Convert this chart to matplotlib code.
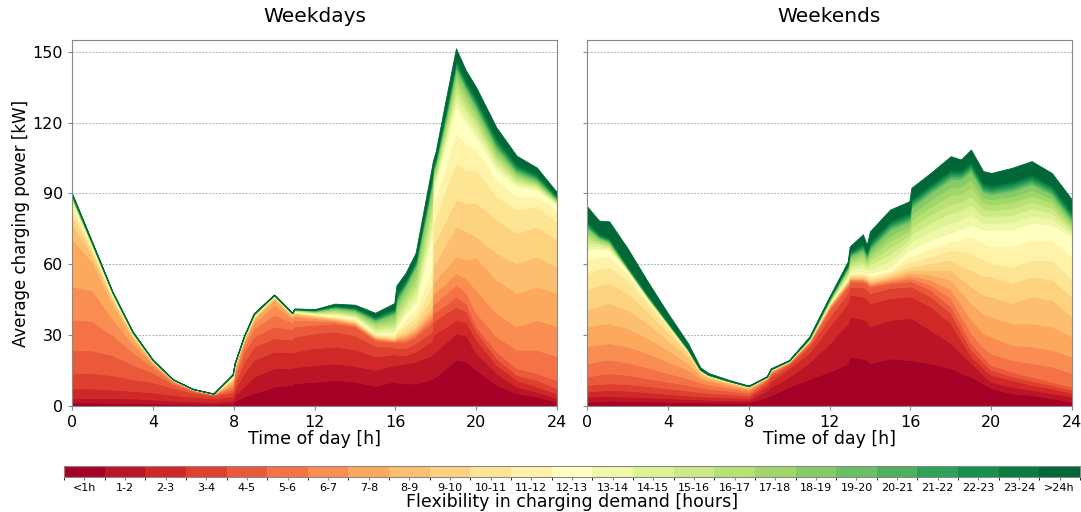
"""
Average charging power by flexibility class, weekdays vs weekends.
Stacked areas (one layer per flexibility class) + shared discrete colorbar.
"""
import numpy as np
import matplotlib
matplotlib.use("Agg")
import matplotlib.pyplot as plt
from matplotlib.colors import ListedColormap, BoundaryNorm
from matplotlib.colorbar import ColorbarBase

# flexibility classes, bottom layer first
CLASSES = ["<1h", "1-2", "2-3", "3-4", "4-5", "5-6", "6-7", "7-8", "8-9", "9-10",
           "10-11", "11-12", "12-13", "13-14", "14-15", "15-16", "16-17", "17-18",
           "18-19", "19-20", "20-21", "21-22", "22-23", "23-24", ">24h"]

# weekdays: time of day [h] and one row of layer values [kW] per time (order = CLASSES)
WD_HOURS = [0, 1, 2, 3, 4, 5, 6, 7, 7.95, 8.05, 8.5, 9, 10, 10.9, 11, 12, 13, 14, 15,
            15.95, 16.05, 16.5, 17, 17.8, 17.85, 18, 18.5, 19, 19.5, 20, 21, 22, 23, 24]
WD_LAYERS = [
    [1.5, 1.8, 4.2, 6.4, 9.9, 12.7, 14.1, 20.4, 6.0, 4.0, 3.0, 1.5, 1.0, 0.5, 0.5, 0.3, 0.3, 0.3, 0.3, 0.2, 0.2, 0.2, 0.2, 0.2, 0.5],
    [1.5, 2.0, 4.0, 6.5, 9.5, 12.5, 13.0, 12.0, 2.5, 2.0, 1.0, 0.7, 0.5, 0.2, 0.2, 0.2, 0.2, 0.1, 0.1, 0.1, 0.1, 0.1, 0.1, 0.1, 0.2],
    [1.4, 2.0, 3.6, 6.0, 8.5, 8.5, 7.0, 6.0, 2.0, 1.2, 0.7, 0.4, 0.3, 0.1, 0.1, 0.1, 0.1, 0.05, 0.05, 0.05, 0.05, 0.05, 0.05, 0.1, 0.1],
    [1.3, 1.9, 3.2, 5.0, 6.1, 5.3, 3.5, 2.5, 1.0, 0.5, 0.3, 0.2, 0.1, 0.05, 0.05, 0.05, 0.05, 0.05, 0.05, 0.05, 0.05, 0.05, 0.05, 0.05, 0.1],
    [1.1, 1.7, 3.0, 4.3, 4.0, 2.5, 1.2, 0.6, 0.3, 0.2, 0.1, 0.1, 0.05, 0.03, 0.03, 0.03, 0.03, 0.03, 0.03, 0.03, 0.03, 0.03, 0.03, 0.03, 0.07],
    [0.9, 1.4, 2.4, 2.9, 1.8, 0.8, 0.4, 0.2, 0.1, 0.05, 0.03, 0.03, 0.03, 0.02, 0.02, 0.02, 0.02, 0.02, 0.02, 0.02, 0.02, 0.02, 0.02, 0.02, 0.06],
    [0.8, 1.2, 1.9, 1.8, 0.7, 0.3, 0.15, 0.08, 0.04, 0.02, 0.02, 0.02, 0.02, 0.01, 0.01, 0.01, 0.01, 0.01, 0.01, 0.01, 0.01, 0.01, 0.01, 0.01, 0.05],
    [0.7, 1.0, 1.5, 1.2, 0.35, 0.15, 0.08, 0.05, 0.03, 0.02, 0.02, 0.02, 0.02, 0.01, 0.01, 0.01, 0.01, 0.01, 0.01, 0.01, 0.01, 0.01, 0.01, 0.01, 0.04],
    [0.9, 1.4, 1.9, 1.7, 1.3, 1.2, 1.0, 0.9, 0.8, 0.6, 0.5, 0.3, 0.2, 0.1, 0.1, 0.1, 0.05, 0.05, 0.05, 0.05, 0.05, 0.05, 0.05, 0.05, 0.1],
    [2.0, 2.5, 2.5, 2.5, 2.2, 2.0, 1.5, 1.0, 0.6, 0.4, 0.2, 0.1, 0.1, 0.05, 0.05, 0.05, 0.05, 0.05, 0.05, 0.05, 0.05, 0.05, 0.05, 0.05, 0.1],
    [4.0, 4.2, 5.5, 4.9, 4.2, 2.5, 1.5, 0.9, 0.5, 0.3, 0.2, 0.1, 0.1, 0.05, 0.05, 0.05, 0.05, 0.05, 0.05, 0.05, 0.05, 0.05, 0.05, 0.05, 0.1],
    [5.4, 7.0, 7.1, 5.5, 4.4, 3.5, 2.4, 1.5, 0.5, 0.4, 0.3, 0.2, 0.1, 0.1, 0.1, 0.1, 0.1, 0.1, 0.1, 0.05, 0.05, 0.05, 0.05, 0.05, 0.2],
    [8.2, 7.8, 7.0, 5.7, 5.0, 4.9, 4.3, 2.3, 0.8, 0.3, 0.2, 0.1, 0.1, 0.05, 0.05, 0.05, 0.05, 0.05, 0.05, 0.02, 0.02, 0.02, 0.02, 0.02, 0.15],
    [9.0, 7.2, 6.5, 5.5, 4.3, 3.0, 1.8, 0.8, 0.4, 0.2, 0.1, 0.1, 0.1, 0.05, 0.05, 0.05, 0.05, 0.05, 0.05, 0.02, 0.02, 0.02, 0.02, 0.02, 0.1],
    [9.6, 6.8, 6.6, 6.4, 4.3, 2.8, 1.6, 0.8, 0.5, 0.3, 0.2, 0.2, 0.2, 0.1, 0.1, 0.1, 0.1, 0.1, 0.1, 0.05, 0.05, 0.05, 0.05, 0.05, 0.2],
    [10.3, 7.1, 7.1, 6.3, 3.6, 1.8, 1.0, 0.6, 0.4, 0.3, 0.2, 0.2, 0.2, 0.2, 0.2, 0.2, 0.2, 0.2, 0.2, 0.1, 0.1, 0.1, 0.1, 0.1, 0.2],
    [11.0, 7.1, 7.1, 6.3, 3.5, 0.8, 0.6, 0.4, 0.3, 0.4, 0.4, 0.4, 0.3, 0.5, 0.5, 0.5, 0.5, 0.5, 0.5, 0.2, 0.2, 0.2, 0.2, 0.25, 0.7],
    [10.3, 6.7, 7.0, 6.0, 3.7, 0.6, 0.5, 0.4, 0.3, 0.5, 0.5, 0.5, 0.5, 0.5, 0.5, 0.5, 0.5, 0.5, 0.5, 0.2, 0.3, 0.3, 0.3, 0.3, 1.0],
    [8.5, 6.8, 5.7, 4.5, 2.5, 0.5, 0.4, 0.3, 0.3, 0.4, 0.4, 0.4, 0.3, 0.85, 0.85, 0.85, 0.85, 0.85, 0.85, 0.3, 0.3, 0.4, 0.4, 0.4, 1.6],
    [10.5, 6.9, 4.6, 3.0, 2.0, 0.4, 0.4, 0.4, 0.3, 0.6, 0.7, 0.6, 0.6, 1.2, 1.3, 1.4, 1.4, 1.4, 1.3, 0.4, 0.4, 0.5, 0.5, 0.6, 2.2],
    [10.0, 7.5, 4.0, 3.0, 2.8, 0.6, 0.6, 0.6, 0.4, 0.8, 0.9, 0.9, 0.9, 1.6, 1.8, 1.9, 1.9, 1.9, 1.9, 0.6, 0.7, 0.7, 0.8, 0.9, 3.3],
    [9.6, 8.4, 3.6, 2.9, 2.8, 0.9, 0.9, 0.9, 0.8, 1.6, 2.0, 2.4, 2.5, 1.7, 1.8, 1.9, 2.0, 1.9, 2.0, 0.5, 0.5, 0.6, 0.6, 0.7, 2.8],
    [9.6, 9.2, 4.2, 3.6, 2.8, 1.1, 1.1, 1.1, 1.0, 1.8, 2.3, 2.8, 3.0, 2.3, 2.5, 2.6, 2.7, 2.7, 2.6, 0.5, 0.5, 0.6, 0.6, 0.7, 2.9],
    [11.5, 10.0, 6.0, 4.0, 4.0, 1.6, 1.6, 1.6, 1.7, 4.0, 5.0, 7.0, 14.0, 4.0, 3.8, 3.6, 3.4, 3.2, 3.0, 0.7, 0.7, 0.8, 0.8, 0.9, 4.1],
    [12.0, 10.4, 7.6, 5.5, 3.5, 3.9, 4.4, 4.8, 7.2, 8.6, 9.4, 7.5, 6.2, 1.5, 1.4, 1.3, 1.3, 1.2, 1.3, 0.4, 0.4, 0.5, 0.5, 0.5, 2.2],
    [12.4, 10.6, 7.8, 5.7, 3.5, 4.0, 4.5, 5.0, 7.5, 9.0, 10.0, 8.0, 7.0, 1.5, 1.4, 1.3, 1.3, 1.2, 1.3, 0.4, 0.5, 0.5, 0.5, 0.6, 2.5],
    [16.0, 11.0, 6.5, 6.0, 3.5, 4.5, 4.5, 6.5, 10.5, 10.0, 13.0, 10.0, 9.0, 2.2, 2.0, 1.9, 1.8, 1.6, 1.5, 0.7, 0.7, 0.8, 0.8, 0.9, 4.1],
    [19.5, 11.3, 5.7, 5.5, 4.4, 4.9, 5.0, 7.1, 12.6, 11.4, 15.6, 12.7, 11.3, 3.0, 2.8, 2.7, 2.6, 2.5, 2.0, 0.8, 0.8, 0.9, 0.9, 1.0, 4.5],
    [19.0, 11.0, 5.5, 4.5, 3.5, 4.5, 6.0, 8.0, 12.0, 12.0, 14.0, 11.0, 9.0, 2.8, 2.6, 2.4, 2.2, 2.0, 2.0, 0.7, 0.7, 0.8, 0.8, 0.9, 4.1],
    [15.3, 7.0, 5.7, 3.5, 2.2, 5.6, 9.7, 14.0, 8.8, 14.2, 14.0, 8.6, 5.4, 2.4, 2.2, 2.0, 1.9, 1.8, 1.7, 0.8, 0.8, 0.9, 0.9, 1.0, 4.6],
    [8.9, 5.0, 3.5, 2.8, 2.8, 6.4, 9.9, 14.2, 11.3, 14.2, 9.8, 7.2, 4.0, 1.8, 1.6, 1.5, 1.4, 1.4, 1.3, 0.8, 0.8, 0.9, 0.9, 1.0, 4.6],
    [5.4, 2.8, 2.8, 2.2, 2.8, 7.8, 9.9, 14.1, 12.7, 12.8, 9.9, 5.6, 4.2, 1.2, 1.1, 1.0, 1.0, 0.9, 0.8, 0.6, 0.6, 0.7, 0.7, 0.8, 3.6],
    [4.0, 2.0, 2.2, 2.8, 2.9, 9.9, 12.7, 14.1, 12.8, 12.6, 8.6, 4.2, 2.8, 0.8, 0.7, 0.6, 0.6, 0.6, 0.6, 0.5, 0.5, 0.5, 0.6, 0.6, 2.8],
    [1.8, 1.5, 2.1, 2.1, 3.5, 10.0, 12.7, 14.1, 11.2, 11.4, 7.8, 5.0, 2.1, 0.4, 0.4, 0.35, 0.35, 0.3, 0.3, 0.3, 0.3, 0.3, 0.3, 0.4, 1.5],
]

# weekends
WE_HOURS = [0, 0.6, 1.1, 2, 3, 4, 5, 5.6, 6, 7, 8, 8.9, 9.1, 10, 11, 12, 12.9, 13, 13.65, 13.85,
            14, 15, 15.95, 16.05, 17, 18, 18.5, 19, 19.6, 20, 21, 22, 23, 24]
WE_LAYERS = [
    [1.8, 2.2, 2.1, 2.8, 3.5, 5.7, 7.1, 8.5, 7.0, 8.5, 7.1, 5.7, 4.2, 1.8, 1.7, 1.6, 1.5, 1.4, 1.2, 0.5, 0.5, 0.6, 0.6, 0.7, 6.3],
    [2.1, 2.1, 2.4, 2.8, 4.0, 5.7, 7.1, 8.5, 8.0, 8.5, 7.0, 5.0, 3.5, 1.0, 0.9, 0.8, 0.7, 0.6, 0.5, 0.3, 0.3, 0.3, 0.4, 0.5, 5.5],
    [2.3, 1.9, 2.6, 2.8, 4.3, 5.6, 7.1, 8.4, 8.6, 8.4, 7.0, 4.4, 2.8, 0.7, 0.6, 0.6, 0.5, 0.5, 0.4, 0.3, 0.3, 0.3, 0.4, 0.5, 6.9],
    [2.1, 1.9, 2.5, 2.8, 3.9, 5.2, 6.8, 7.8, 7.7, 7.1, 5.7, 2.8, 1.4, 0.15, 0.15, 0.1, 0.1, 0.1, 0.1, 0.2, 0.2, 0.2, 0.3, 0.4, 7.2],
    [2.0, 1.7, 2.2, 2.6, 3.2, 4.6, 6.0, 6.4, 6.3, 5.0, 3.6, 1.4, 0.7, 0.1, 0.1, 0.1, 0.1, 0.1, 0.1, 0.2, 0.2, 0.2, 0.2, 0.3, 5.4],
    [1.8, 1.5, 1.8, 2.4, 2.8, 3.6, 4.9, 5.0, 4.2, 3.5, 2.2, 0.7, 0.3, 0.05, 0.05, 0.05, 0.05, 0.05, 0.05, 0.15, 0.15, 0.15, 0.2, 0.25, 3.4],
    [1.7, 1.3, 1.5, 2.0, 2.4, 2.8, 3.6, 2.8, 2.9, 1.6, 0.6, 0.2, 0.1, 0.05, 0.05, 0.05, 0.05, 0.05, 0.05, 0.1, 0.1, 0.1, 0.1, 0.2, 2.2],
    [1.6, 1.2, 1.4, 1.7, 2.0, 2.1, 1.6, 1.5, 1.1, 0.5, 0.3, 0.1, 0.05, 0.03, 0.03, 0.03, 0.03, 0.03, 0.03, 0.05, 0.05, 0.05, 0.05, 0.05, 0.9],
    [1.5, 1.1, 1.3, 1.6, 1.8, 1.8, 1.6, 0.9, 0.7, 0.4, 0.2, 0.1, 0.05, 0.03, 0.03, 0.03, 0.03, 0.03, 0.03, 0.04, 0.04, 0.04, 0.04, 0.04, 0.6],
    [1.5, 1.0, 1.2, 1.4, 1.4, 1.3, 1.0, 0.7, 0.5, 0.3, 0.1, 0.05, 0.05, 0.02, 0.02, 0.02, 0.02, 0.02, 0.02, 0.03, 0.03, 0.03, 0.03, 0.03, 0.35],
    [1.5, 0.9, 1.0, 1.1, 1.0, 0.9, 0.7, 0.5, 0.3, 0.15, 0.1, 0.05, 0.05, 0.02, 0.02, 0.02, 0.02, 0.02, 0.02, 0.02, 0.02, 0.02, 0.02, 0.02, 0.2],
    [3.8, 2.8, 2.0, 1.4, 1.0, 0.4, 0.3, 0.2, 0.15, 0.1, 0.05, 0.05, 0.05, 0.02, 0.02, 0.02, 0.02, 0.02, 0.02, 0.02, 0.02, 0.02, 0.02, 0.02, 0.1],
    [4.5, 3.5, 2.6, 1.8, 1.2, 0.6, 0.4, 0.3, 0.2, 0.1, 0.1, 0.05, 0.05, 0.03, 0.03, 0.03, 0.03, 0.03, 0.03, 0.03, 0.03, 0.03, 0.03, 0.03, 0.25],
    [8.2, 4.2, 3.6, 1.4, 0.7, 0.3, 0.2, 0.1, 0.1, 0.05, 0.05, 0.05, 0.05, 0.03, 0.03, 0.03, 0.03, 0.03, 0.03, 0.03, 0.03, 0.03, 0.03, 0.03, 0.15],
    [11.4, 7.1, 4.2, 2.5, 1.4, 0.4, 0.3, 0.2, 0.2, 0.1, 0.1, 0.05, 0.05, 0.08, 0.08, 0.08, 0.08, 0.08, 0.08, 0.1, 0.1, 0.1, 0.1, 0.15, 0.35],
    [14.6, 12.0, 7.1, 4.2, 2.8, 0.8, 0.6, 0.5, 0.3, 0.2, 0.15, 0.15, 0.1, 0.3, 0.3, 0.25, 0.25, 0.2, 0.2, 0.2, 0.2, 0.2, 0.2, 0.2, 0.4],
    [18.1, 16.9, 8.6, 4.2, 2.8, 0.7, 0.6, 0.5, 0.4, 0.4, 0.4, 0.3, 0.3, 0.8, 0.8, 0.7, 0.7, 0.6, 0.7, 0.25, 0.25, 0.25, 0.3, 0.3, 1.35],
    [20.9, 17.0, 9.2, 3.5, 2.2, 0.6, 0.5, 0.5, 0.5, 0.4, 0.4, 0.3, 0.3, 1.4, 1.3, 1.2, 1.1, 1.0, 1.1, 0.4, 0.4, 0.4, 0.4, 0.5, 2.1],
    [20.0, 16.8, 9.6, 3.8, 2.4, 0.6, 0.5, 0.5, 0.55, 0.6, 0.65, 0.6, 0.6, 1.7, 1.6, 1.5, 1.4, 1.3, 1.2, 0.5, 0.5, 0.6, 0.6, 0.7, 3.9],
    [19.5, 16.5, 9.5, 3.9, 2.5, 0.6, 0.5, 0.5, 0.5, 0.6, 0.6, 0.6, 0.6, 1.3, 1.2, 1.1, 1.0, 1.0, 0.9, 0.5, 0.5, 0.5, 0.5, 0.6, 2.8],
    [18.1, 15.6, 9.9, 4.2, 2.8, 0.6, 0.5, 0.5, 0.6, 0.8, 0.9, 0.9, 0.9, 1.9, 1.8, 1.7, 1.6, 1.5, 1.4, 0.6, 0.6, 0.7, 0.7, 0.8, 4.4],
    [20.2, 16.3, 9.2, 4.3, 2.0, 0.8, 0.7, 0.7, 0.7, 0.9, 0.8, 0.8, 1.1, 3.0, 2.9, 2.8, 2.7, 2.5, 2.3, 0.7, 0.7, 0.7, 0.8, 0.8, 4.8],
    [19.5, 17.7, 9.2, 4.2, 2.2, 1.2, 1.2, 1.1, 1.2, 1.5, 2.0, 2.5, 3.0, 2.1, 2.0, 2.0, 1.9, 1.8, 1.7, 0.7, 0.7, 0.8, 0.8, 0.9, 4.8],
    [19.5, 17.7, 9.2, 4.2, 2.2, 1.2, 1.2, 1.1, 1.2, 1.5, 2.0, 2.5, 3.0, 3.2, 3.1, 3.0, 2.9, 2.6, 2.6, 0.7, 0.7, 0.7, 0.8, 0.8, 4.8],
    [18.1, 14.1, 9.9, 4.3, 2.8, 2.1, 2.2, 2.1, 2.1, 2.8, 2.9, 3.5, 3.5, 3.8, 3.6, 3.4, 3.2, 3.0, 2.8, 0.7, 0.7, 0.7, 0.8, 0.8, 4.8],
    [16.0, 10.6, 8.4, 4.3, 2.8, 3.6, 3.5, 4.3, 4.2, 4.3, 4.2, 3.5, 3.6, 4.3, 4.1, 3.9, 3.7, 3.4, 3.2, 0.7, 0.8, 0.8, 0.9, 0.9, 5.8],
    [14.0, 8.5, 5.5, 3.5, 3.0, 3.5, 5.0, 5.5, 5.5, 5.5, 6.0, 5.0, 4.5, 4.0, 3.8, 3.6, 3.4, 3.2, 3.0, 0.7, 0.7, 0.7, 0.8, 0.8, 4.7],
    [12.4, 5.7, 2.8, 2.9, 2.8, 4.2, 5.7, 7.1, 7.0, 7.1, 7.1, 7.0, 5.2, 4.3, 4.0, 3.8, 3.6, 3.4, 3.3, 0.7, 0.7, 0.8, 0.8, 0.9, 5.3],
    [9.6, 3.6, 2.8, 2.5, 2.4, 4.1, 6.0, 8.0, 8.0, 8.0, 7.0, 7.0, 5.5, 3.2, 3.0, 2.8, 2.6, 2.3, 2.1, 0.7, 0.7, 0.8, 0.8, 0.8, 5.2],
    [7.5, 2.8, 2.9, 2.1, 2.1, 4.9, 7.1, 8.5, 8.5, 8.5, 5.6, 7.1, 7.1, 2.9, 2.7, 2.6, 2.4, 2.2, 2.0, 0.7, 0.7, 0.8, 0.8, 0.9, 5.3],
    [5.4, 2.8, 2.8, 1.7, 1.9, 4.9, 6.4, 9.1, 8.6, 8.4, 7.1, 8.5, 7.1, 3.2, 3.0, 2.8, 2.6, 2.4, 2.2, 0.7, 0.8, 0.8, 0.9, 0.9, 5.8],
    [4.7, 2.1, 2.1, 1.8, 1.7, 5.7, 7.1, 9.8, 11.4, 8.5, 7.0, 8.5, 7.1, 3.2, 3.0, 2.8, 2.6, 2.4, 2.3, 0.7, 0.8, 0.8, 0.9, 0.9, 5.8],
    [3.3, 2.1, 2.1, 1.4, 1.4, 6.4, 7.1, 9.9, 11.3, 8.5, 8.4, 8.5, 6.4, 2.6, 2.4, 2.2, 2.0, 1.8, 1.7, 0.7, 0.7, 0.8, 0.8, 0.9, 5.3],
    [1.8, 2.2, 1.4, 1.4, 1.4, 5.7, 7.0, 8.5, 8.5, 8.5, 7.1, 9.9, 8.4, 1.3, 1.2, 1.1, 1.0, 1.0, 0.8, 0.7, 0.7, 0.8, 0.8, 0.9, 5.3],
]

W, H = 1081, 512
cmap = plt.get_cmap("RdYlGn", len(CLASSES))
colors = [cmap(i) for i in range(len(CLASSES))]

fig = plt.figure(figsize=(W / 100, H / 100), dpi=100)
ax_wd = fig.add_axes([72 / W, 106 / H, 485 / W, 366 / H])
ax_we = fig.add_axes([587 / W, 106 / H, 485 / W, 366 / H], sharey=ax_wd)


def draw_panel(ax, hours, rows, title):
    layers = np.array(rows).T
    polys = ax.stackplot(hours, layers, colors=colors, linewidth=0.6)
    for p, c in zip(polys, colors):
        p.set_edgecolor(c)
    ax.set_xlim(0, 24)
    ax.set_ylim(0, 155)
    ax.set_xticks(range(0, 25, 4))
    ax.set_yticks(range(0, 151, 30))
    ax.yaxis.grid(True, linestyle=(0, (2, 2)), color="#999999", linewidth=0.6)
    ax.set_axisbelow(True)
    for s in ax.spines.values():
        s.set_color("#888888")
    ax.tick_params(labelsize=11.5, length=3, color="#888888")
    ax.set_xlabel("Time of day [h]", fontsize=12.5, labelpad=0)
    ax.set_title(title, fontsize=14.5, pad=13)


draw_panel(ax_wd, WD_HOURS, WD_LAYERS, "Weekdays")
draw_panel(ax_we, WE_HOURS, WE_LAYERS, "Weekends")
ax_wd.set_ylabel("Average charging power [kW]", fontsize=12, labelpad=2)
plt.setp(ax_we.get_yticklabels(), visible=False)

# discrete colorbar for the flexibility classes
cax = fig.add_axes([64 / W, 35 / H, 1016 / W, 11 / H])
n = len(CLASSES)
cb = ColorbarBase(cax, cmap=ListedColormap(colors), norm=BoundaryNorm(range(n + 1), n),
                  orientation="horizontal", ticks=np.arange(n) + 0.5)
cb.ax.set_xticklabels(CLASSES, fontsize=8)
cb.ax.tick_params(length=2.5, pad=1.5, color="#888888")
cb.outline.set_edgecolor("#888888")
cb.set_label("Flexibility in charging demand [hours]", fontsize=12.5, labelpad=0)

fig.savefig("out.png", dpi=100)
